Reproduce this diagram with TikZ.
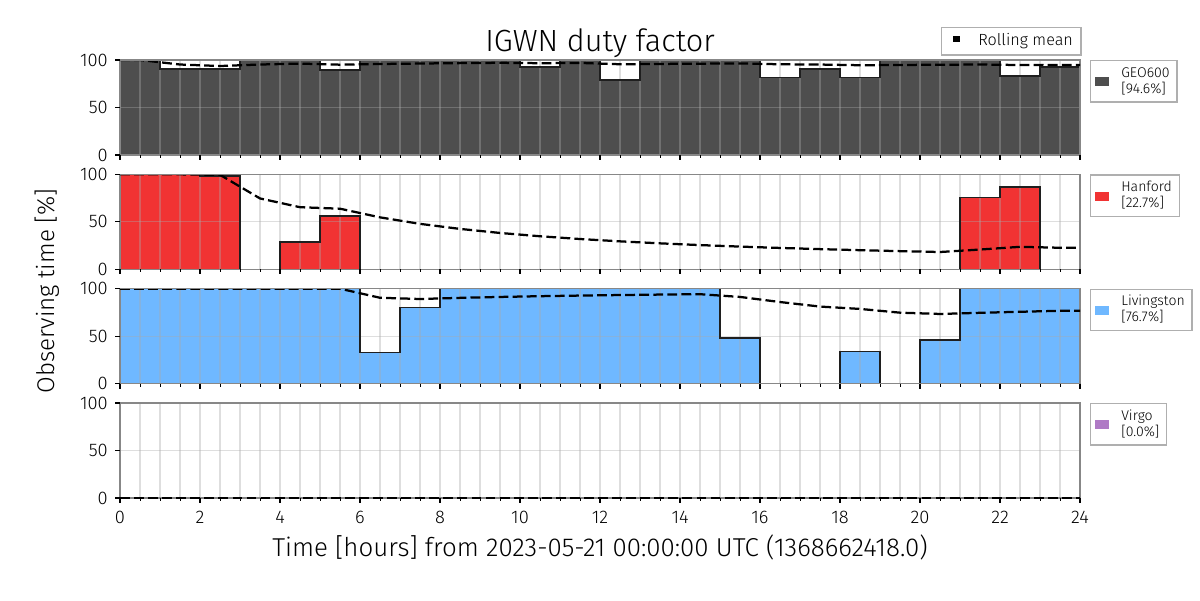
\documentclass[tikz,border=0pt]{standalone}
\usepackage{fontspec}
\setmainfont{Fira Sans Light}
\usetikzlibrary{fit}
\definecolor{geocol}{RGB}{78,78,78}
\definecolor{hancol}{RGB}{241,51,51}
\definecolor{livcol}{RGB}{111,184,255}
\definecolor{vircol}{RGB}{175,122,197}
\definecolor{spinecol}{RGB}{135,135,135}
\definecolor{gridcol}{RGB}{170,170,170}
\definecolor{legedge}{RGB}{175,175,175}
\tikzset{
  spine/.style={draw=spinecol, line width=0.95pt},
  gridline/.style={draw=gridcol, opacity=0.38, line width=0.75pt},
  stairedge/.style={draw=black!88, line width=1.1pt},
  rmean/.style={draw=black, line width=1.6pt, dash pattern=on 7pt off 3pt},
  majtick/.style={draw=black, line width=0.75pt},
  mintick/.style={draw=black, line width=0.55pt},
  ticklab/.style={font=\fontsize{13}{15}\selectfont, inner sep=0pt},
  legtxt/.style={font=\fontsize{10}{12}\selectfont, inner sep=0pt, anchor=base west},
  legframe/.style={draw=legedge, line width=0.9pt, inner sep=0pt},
}
\newcommand\drawpanel[3]{%
  \begin{scope}[shift={(120,#1)}, xscale=40, yscale=-0.95]
    \gdef\stpath{}\gdef\rmpath{}\gdef\cmsum{0}%
    \foreach \v [count=\i from 0] in {#3} {%
      \pgfmathsetmacro\hA{\i}\pgfmathsetmacro\hB{\i+1}\pgfmathsetmacro\hC{\i+0.5}%
      \pgfmathsetmacro\cmS{\cmsum+\v}\xdef\cmsum{\cmS}%
      \pgfmathsetmacro\cmM{\cmS/(\i+1)}\xdef\lastm{\cmM}%
      \ifnum\i=0
        \xdef\stpath{(\hA,\v) -- (\hB,\v)}%
        \xdef\rmpath{(0,\cmM) -- (\hC,\cmM)}%
      \else
        \xdef\stpath{\stpath -- (\hA,\v) -- (\hB,\v)}%
        \xdef\rmpath{\rmpath -- (\hC,\cmM)}%
      \fi
    }%
    \begin{scope}
      \clip (0,0) rectangle (24,100);
      \fill[#2] (0,0) -- \stpath -- (24,0) -- cycle;
      \foreach \g in {0.5,1,...,23.5} { \draw[gridline] (\g,0) -- (\g,100); }
      \draw[gridline] (0,50) -- (24,50);
      \draw[stairedge] \stpath;
    \end{scope}
    \draw[spine] (0,0) rectangle (24,100);
    \begin{scope}
      \clip (0,-3) rectangle (24,98.8);
      \draw[rmean] \rmpath -- (24,\lastm);
    \end{scope}
    \foreach \g in {0,0.5,...,24} { \draw[mintick] (\g,0) -- (\g,-3.2); }
    \foreach \g in {0,2,...,24} { \draw[majtick] (\g,0) -- (\g,-5.3); }
    \foreach \t in {0,50,100} {
      \draw[majtick] (0,\t) -- (-0.125,\t);
      \node[ticklab, anchor=east] (yl#1-\t) at (-0.3,\t) {\t};
    }
  \end{scope}}
\newcommand\legendbox[5]{% top, colour, line1, line2, name
  \coordinate (#5a) at (1090.7,#1);
  \coordinate (#5b) at (1090.7,{#1+41.3});
  \fill[#2] (1095,{#1+16.5}) rectangle (1109,{#1+25.5});
  \node[legtxt] (#5t1) at (1121,{#1+16.3}) {#3};
  \node[legtxt] (#5t2) at (1121,{#1+32.5}) {#4};
  \node[legframe, fit={(#5a) (#5b) ([xshift=5pt]#5t1.east) ([xshift=5pt]#5t2.east)}] (#5f) {};
}
\begin{document}
\begin{tikzpicture}[x=0.025cm, y=-0.025cm]
\useasboundingbox (0,0) rectangle (1200,600);
\fill[white] (0,0) rectangle (1200,600);

\drawpanel{155}{geocol}{100,90.5,90.5,100,100,89.5,100,100,100,100,92.5,100,79,100,100,100,81.5,90.5,81.5,100,100,100,83,92.5}
\drawpanel{269.33}{hancol}{100,100,98.5,0,28.5,56,0,0,0,0,0,0,0,0,0,0,0,0,0,0,0,75.5,86.5,0}
\drawpanel{383.67}{livcol}{100,100,100,100,100,100,33,80,100,100,100,100,100,100,100,48,0,0,34,0,46,100,100,100}
\drawpanel{498}{vircol}{0,0,0,0,0,0,0,0,0,0,0,0,0,0,0,0,0,0,0,0,0,0,0,0}

\foreach \k in {0,...,12} {
  \pgfmathtruncatemacro\lab{2*\k}
  \node[ticklab, anchor=base] (xt\k) at ({120+80*\k},523.5) {\lab};
}

\node[font=\fontsize{21.8}{26}\selectfont, inner sep=0pt, anchor=base] (title) at (600,51.7) {IGWN duty factor};
\node[font=\fontsize{18.4}{22}\selectfont, inner sep=0pt, anchor=base] (xlabel) at (600,556) {Time [hours] from 2023-05-21 00:00:00 UTC (1368662418.0)};
\node[font=\fontsize{17.2}{21}\selectfont, inner sep=0pt, rotate=90] (ylabel) at (47,291) {Observing time [\%]};

% rolling mean legend
\draw[legframe] (941.7,27.7) rectangle (1081,55);
\fill[black] (953,36) rectangle (960,41.7);
\node[font=\fontsize{11.5}{14}\selectfont, inner sep=0pt, anchor=base west] (rmtxt) at (978,45.7) {Rolling mean};

\legendbox{60.7}{geocol}{GEO600}{[94.6\%]}{geo}
\legendbox{175}{hancol}{Hanford}{[22.7\%]}{han}
\legendbox{289.3}{livcol}{Livingston}{[76.7\%]}{liv}
\legendbox{403.7}{vircol}{Virgo}{[0.0\%]}{vir}
\end{tikzpicture}
\end{document}
